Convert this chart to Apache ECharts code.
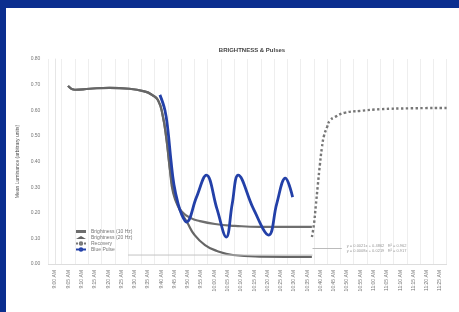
<!DOCTYPE html>
<html lang="en">
<head>
  <meta charset="UTF-8">
  <title>Brightness vs Time</title>
  <script src="https://cdn.jsdelivr.net/npm/echarts@6/dist/echarts.min.js"></script>
  <style>
    html, body { margin: 0; padding: 0; background: #fff; }
    #main { position: absolute; left: 0; top: 0; width: 459px; height: 312px; }
    .frame { position: absolute; background: #0b2e8f; }
  </style>
</head>
<body>
<div id="main"></div>
<div class="frame" style="left:0;top:0;width:459px;height:8px;"></div>
<div class="frame" style="left:0;top:0;width:6px;height:312px;"></div>
<script>
  // x tick labels (one per category)
  var timeLabels = ['9:00 AM','9:05 AM','9:10 AM','9:15 AM','9:20 AM','9:25 AM','9:30 AM','9:35 AM','9:40 AM','9:45 AM',
    '9:50 AM','9:55 AM','10:00 AM','10:05 AM','10:10 AM','10:15 AM','10:20 AM','10:25 AM','10:30 AM','10:35 AM',
    '10:40 AM','10:45 AM','10:50 AM','10:55 AM','11:00 AM','11:05 AM','11:10 AM','11:15 AM','11:20 AM','11:25 AM'];

  // [category position, value]
  var brightA = [[0.98,0.695],[1.5,0.68],[2.6,0.684],[4.1,0.6875],[5.6,0.684],[6.8,0.6725],[7.3,0.66],[7.75,0.64],
    [8.1,0.5825],[8.4,0.485],[8.66,0.3675],[8.9,0.289],[9.2,0.2375],[9.56,0.204],[10.2,0.18],[10.9,0.1675],
    [12.05,0.156],[13.55,0.149],[15.4,0.145],[17.7,0.145],[19.35,0.145]];
  var brightB = [[0.98,0.695],[1.5,0.68],[2.6,0.684],[4.1,0.6875],[5.6,0.684],[6.8,0.6725],[7.3,0.66],[7.75,0.64],
    [8.1,0.5825],[8.4,0.485],[8.66,0.3675],[8.9,0.2775],[9.4,0.211],[9.94,0.164],[10.5,0.114],[11.3,0.074],
    [12.2,0.051],[13.4,0.035],[15.4,0.029],[19.35,0.0275]];
  var recovery = [[19.35,0.105],[19.5,0.1525],[19.65,0.23],[19.8,0.309],[19.95,0.386],[20.1,0.4525],[20.26,0.5],
    [20.5,0.535],[20.7,0.559],[21.1,0.574],[21.8,0.59],[23,0.5975],[24.5,0.604],[26.7,0.6075],[29.5,0.609]];
  var bluePulse = [[7.9,0.66],[8.28,0.6],[8.5,0.524],[8.73,0.406],[8.96,0.309],[9.26,0.2375],[9.56,0.191],
    [9.9,0.164],[10.65,0.26],[11.4,0.347],[12.2,0.215],[12.9,0.105],[13.35,0.235],[13.8,0.347],[14.95,0.215],
    [16.1,0.113],[16.7,0.235],[17.35,0.335],[17.9,0.261]];
  var baseline = [[5.5,0.035],[19.4,0.035]];
  var fitNote = 'y = 0.0021x + 0.4862   R² = 0.962\ny = 0.0008x + 0.0219   R² = 0.917';

  var myChart = echarts.init(document.getElementById('main'));

  var option = {
    animation: false,
    backgroundColor: '#fff',
    title: {
      text: 'BRIGHTNESS & Pulses',
      left: 247,
      textAlign: 'center',
      top: 42,
      textStyle: { fontSize: 6, fontWeight: 'bold', color: '#444', fontFamily: 'Liberation Sans' }
    },
    legend: {
      orient: 'vertical',
      left: 70,
      top: 224,
      itemWidth: 10,
      itemHeight: 3,
      itemGap: 1,
      textStyle: { fontSize: 5, color: '#777', fontFamily: 'Liberation Sans' },
      data: [
        { name: 'Brightness (10 Hz)', icon: 'rect' },
        { name: 'Brightness (20 Hz)', icon: 'triangle' },
        { name: 'Recovery' },
        { name: 'Blue Pulse' }
      ]
    },
    grid: { left: 48.4, right: 12.4, top: 59, bottom: 48 },
    xAxis: [{
      type: 'category',
      data: timeLabels,
      boundaryGap: true,
      axisLine: { lineStyle: { color: '#ddd' } },
      axisTick: { show: false },
      axisLabel: { rotate: 90, fontSize: 5, color: '#777', margin: 6, interval: 0, fontFamily: 'Liberation Sans' },
      splitLine: { show: true, lineStyle: { color: '#eeeeee', width: 1 } }
    }, {
      type: 'value',
      min: -0.5,
      max: 29.5,
      show: false
    }],
    yAxis: {
      type: 'value',
      min: 0,
      max: 0.8,
      interval: 0.1,
      name: 'Mean Luminance (arbitrary units)',
      nameLocation: 'middle',
      nameGap: 13,
      nameTextStyle: { fontSize: 5, color: '#555', fontFamily: 'Liberation Sans' },
      axisLine: { show: true, lineStyle: { color: '#e6e6e6' } },
      axisTick: { show: false },
      axisLabel: { fontSize: 5, color: '#777', margin: 8, formatter: function (v) { return v.toFixed(2); }, fontFamily: 'Liberation Sans' },
      splitLine: { show: false }
    },
    series: [{
      name: 'Brightness (10 Hz)',
      type: 'line',
      xAxisIndex: 1,
      smooth: true,
      showSymbol: false,
      color: '#6e6e6e',
      lineStyle: { width: 2.2, color: '#6e6e6e' },
      data: brightA
    }, {
      name: 'Brightness (20 Hz)',
      type: 'line',
      xAxisIndex: 1,
      smooth: true,
      showSymbol: false,
      color: '#666',
      lineStyle: { width: 2.2, color: '#666' },
      data: brightB
    }, {
      name: 'Recovery',
      type: 'line',
      xAxisIndex: 1,
      smooth: true,
      showSymbol: false,
      color: '#777',
      lineStyle: { width: 2.4, color: '#777', type: 'dotted' },
      data: recovery,
      markLine: {
        silent: true,
        symbol: 'none',
        lineStyle: { color: '#bbb', width: 1, type: 'solid' },
        label: { position: 'end', fontSize: 4, color: '#999', lineHeight: 5, fontFamily: 'Liberation Sans', formatter: fitNote },
        data: [[{ coord: [19.4, 0.0625] }, { coord: [21.6, 0.0625] }]]
      }
    }, {
      name: 'Blue Pulse',
      type: 'line',
      xAxisIndex: 1,
      smooth: 0.4,
      showSymbol: false,
      color: '#2340a8',
      lineStyle: { width: 2.8, color: '#2340a8' },
      data: bluePulse
    }, {
      name: 'Baseline',
      type: 'line',
      xAxisIndex: 1,
      showSymbol: false,
      color: '#bbb',
      lineStyle: { width: 1, color: '#c4c4c4' },
      data: baseline
    }]
  };

  myChart.setOption(option);
</script>
</body>
</html>
